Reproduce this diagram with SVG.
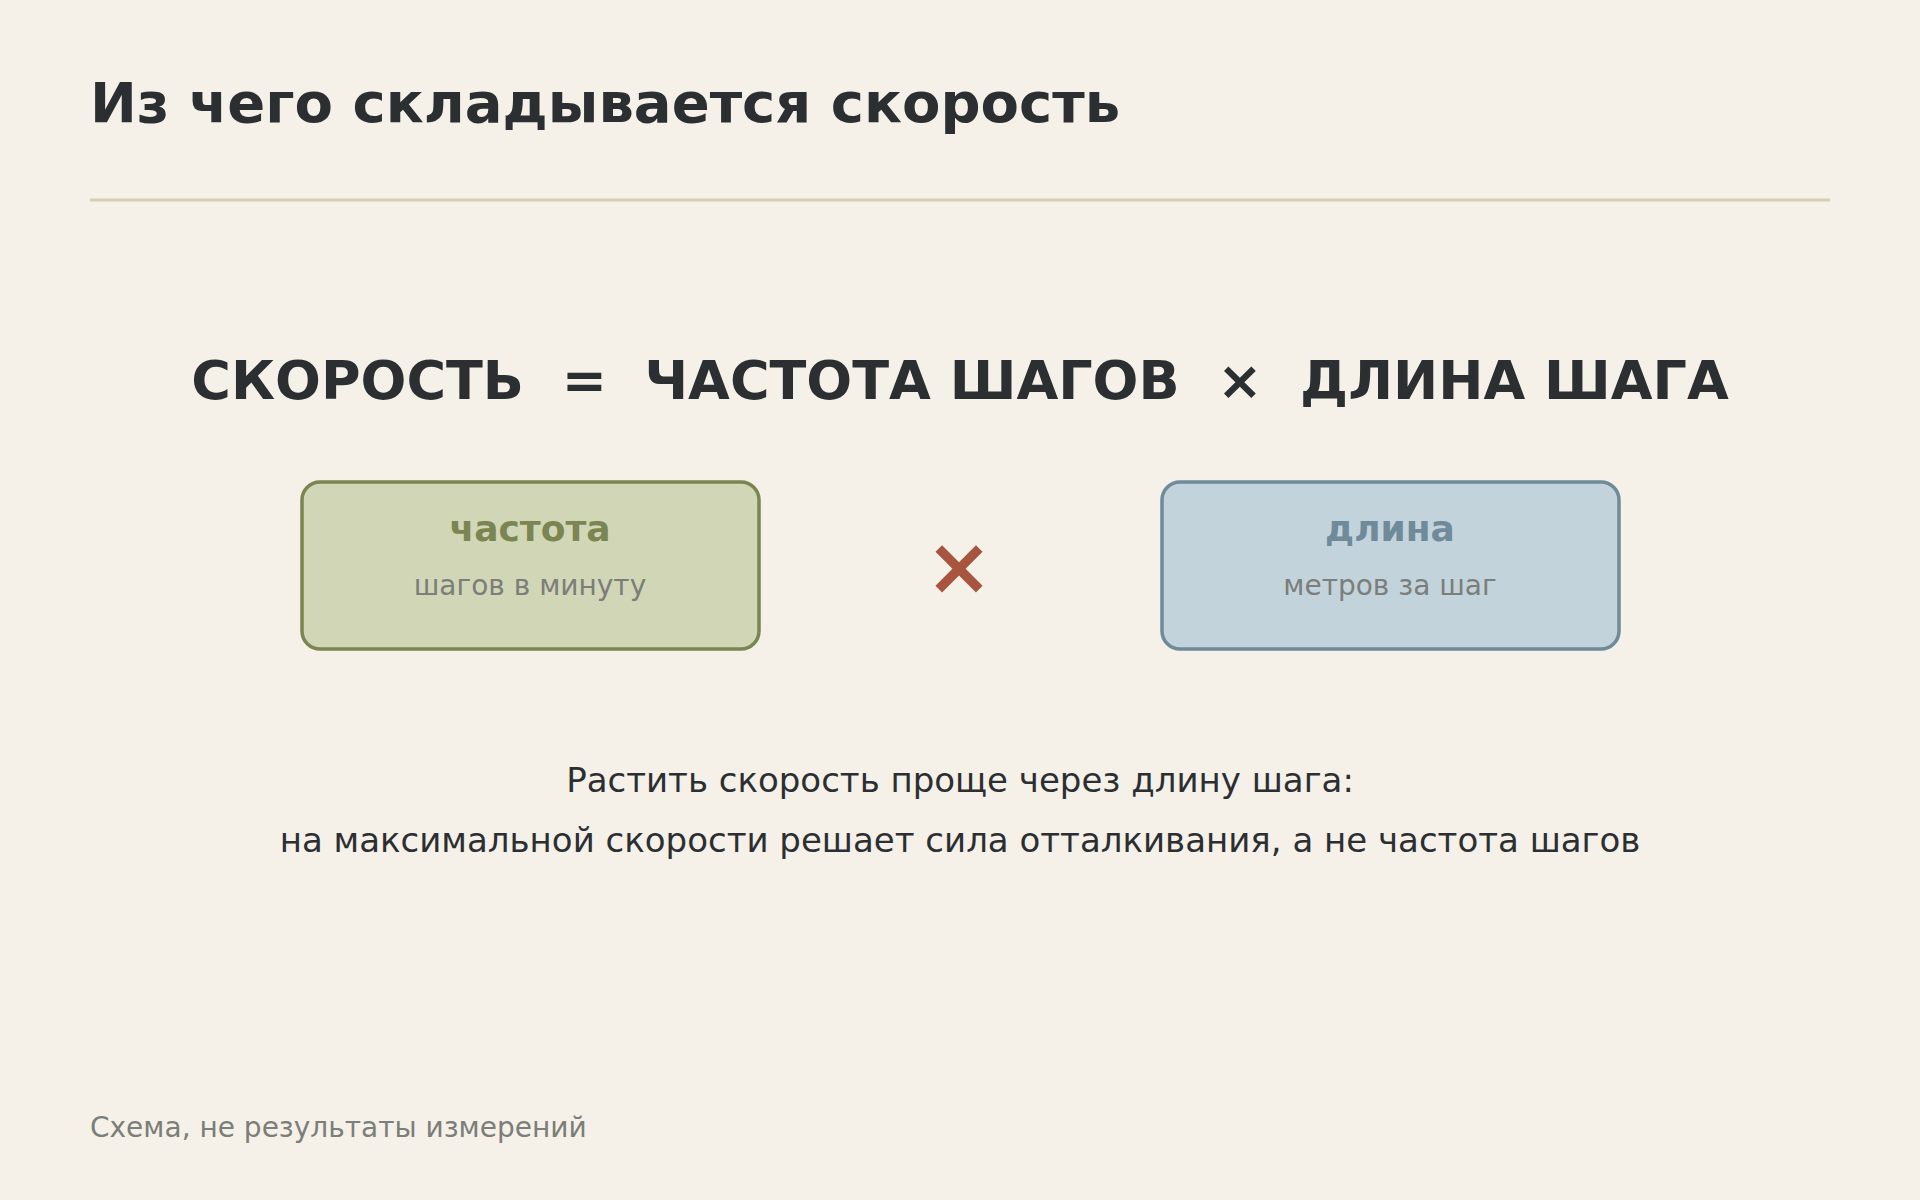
<svg xmlns="http://www.w3.org/2000/svg" width="1920" height="1200" viewBox="0 0 1920 1200">
<style>
text { font-family: "DejaVu Sans", "Liberation Sans", sans-serif; }
.title { font-size: 56px; font-weight: bold; fill: #2c2f31; }
.formula { font-size: 54px; font-weight: bold; fill: #2c2f31; white-space: pre; }
.head { font-size: 36px; font-weight: bold; text-anchor: middle; }
.sub { font-size: 28px; fill: #7b7e79; text-anchor: middle; }
.note { font-size: 34px; fill: #2c2f31; text-anchor: middle; }
.foot { font-size: 28px; fill: #7b7e79; }
</style>
<rect x="0" y="0" width="1920" height="1200" fill="#f5f1e8"/>
<g id="title">
<text class="title" x="90" y="122">Из чего складывается скорость</text>
<line x1="90" y1="200" x2="1830" y2="200" stroke="#d8ccb5" stroke-width="3"/>
</g>
<g id="formula">
<text class="formula" x="960" y="399" text-anchor="middle" xml:space="preserve">СКОРОСТЬ  =  ЧАСТОТА ШАГОВ  ×  ДЛИНА ШАГА</text>
</g>
<g id="node-frequency">
<rect x="302" y="482" width="457" height="167" rx="18" fill="#d0d6b6" stroke="#7b8552" stroke-width="3.5"/>
<text class="head" x="530" y="541" fill="#7b8552">частота</text>
<text class="sub" x="530" y="595">шагов в минуту</text>
</g>
<g id="node-length">
<rect x="1162" y="482" width="457" height="167" rx="18" fill="#c3d3dc" stroke="#6f8a99" stroke-width="3.5"/>
<text class="head" x="1390" y="541" fill="#6f8a99">длина</text>
<text class="sub" x="1390" y="595">метров за шаг</text>
</g>
<g id="connectors">
<text x="959" y="594" font-size="80" font-weight="bold" fill="#a8553f" text-anchor="middle">×</text>
</g>
<g id="note">
<text class="note" x="960" y="792">Растить скорость проще через длину шага:</text>
<text class="note" x="960" y="852">на максимальной скорости решает сила отталкивания, а не частота шагов</text>
</g>
<g id="footer">
<text class="foot" x="90" y="1137">Схема, не результаты измерений</text>
</g>
</svg>
